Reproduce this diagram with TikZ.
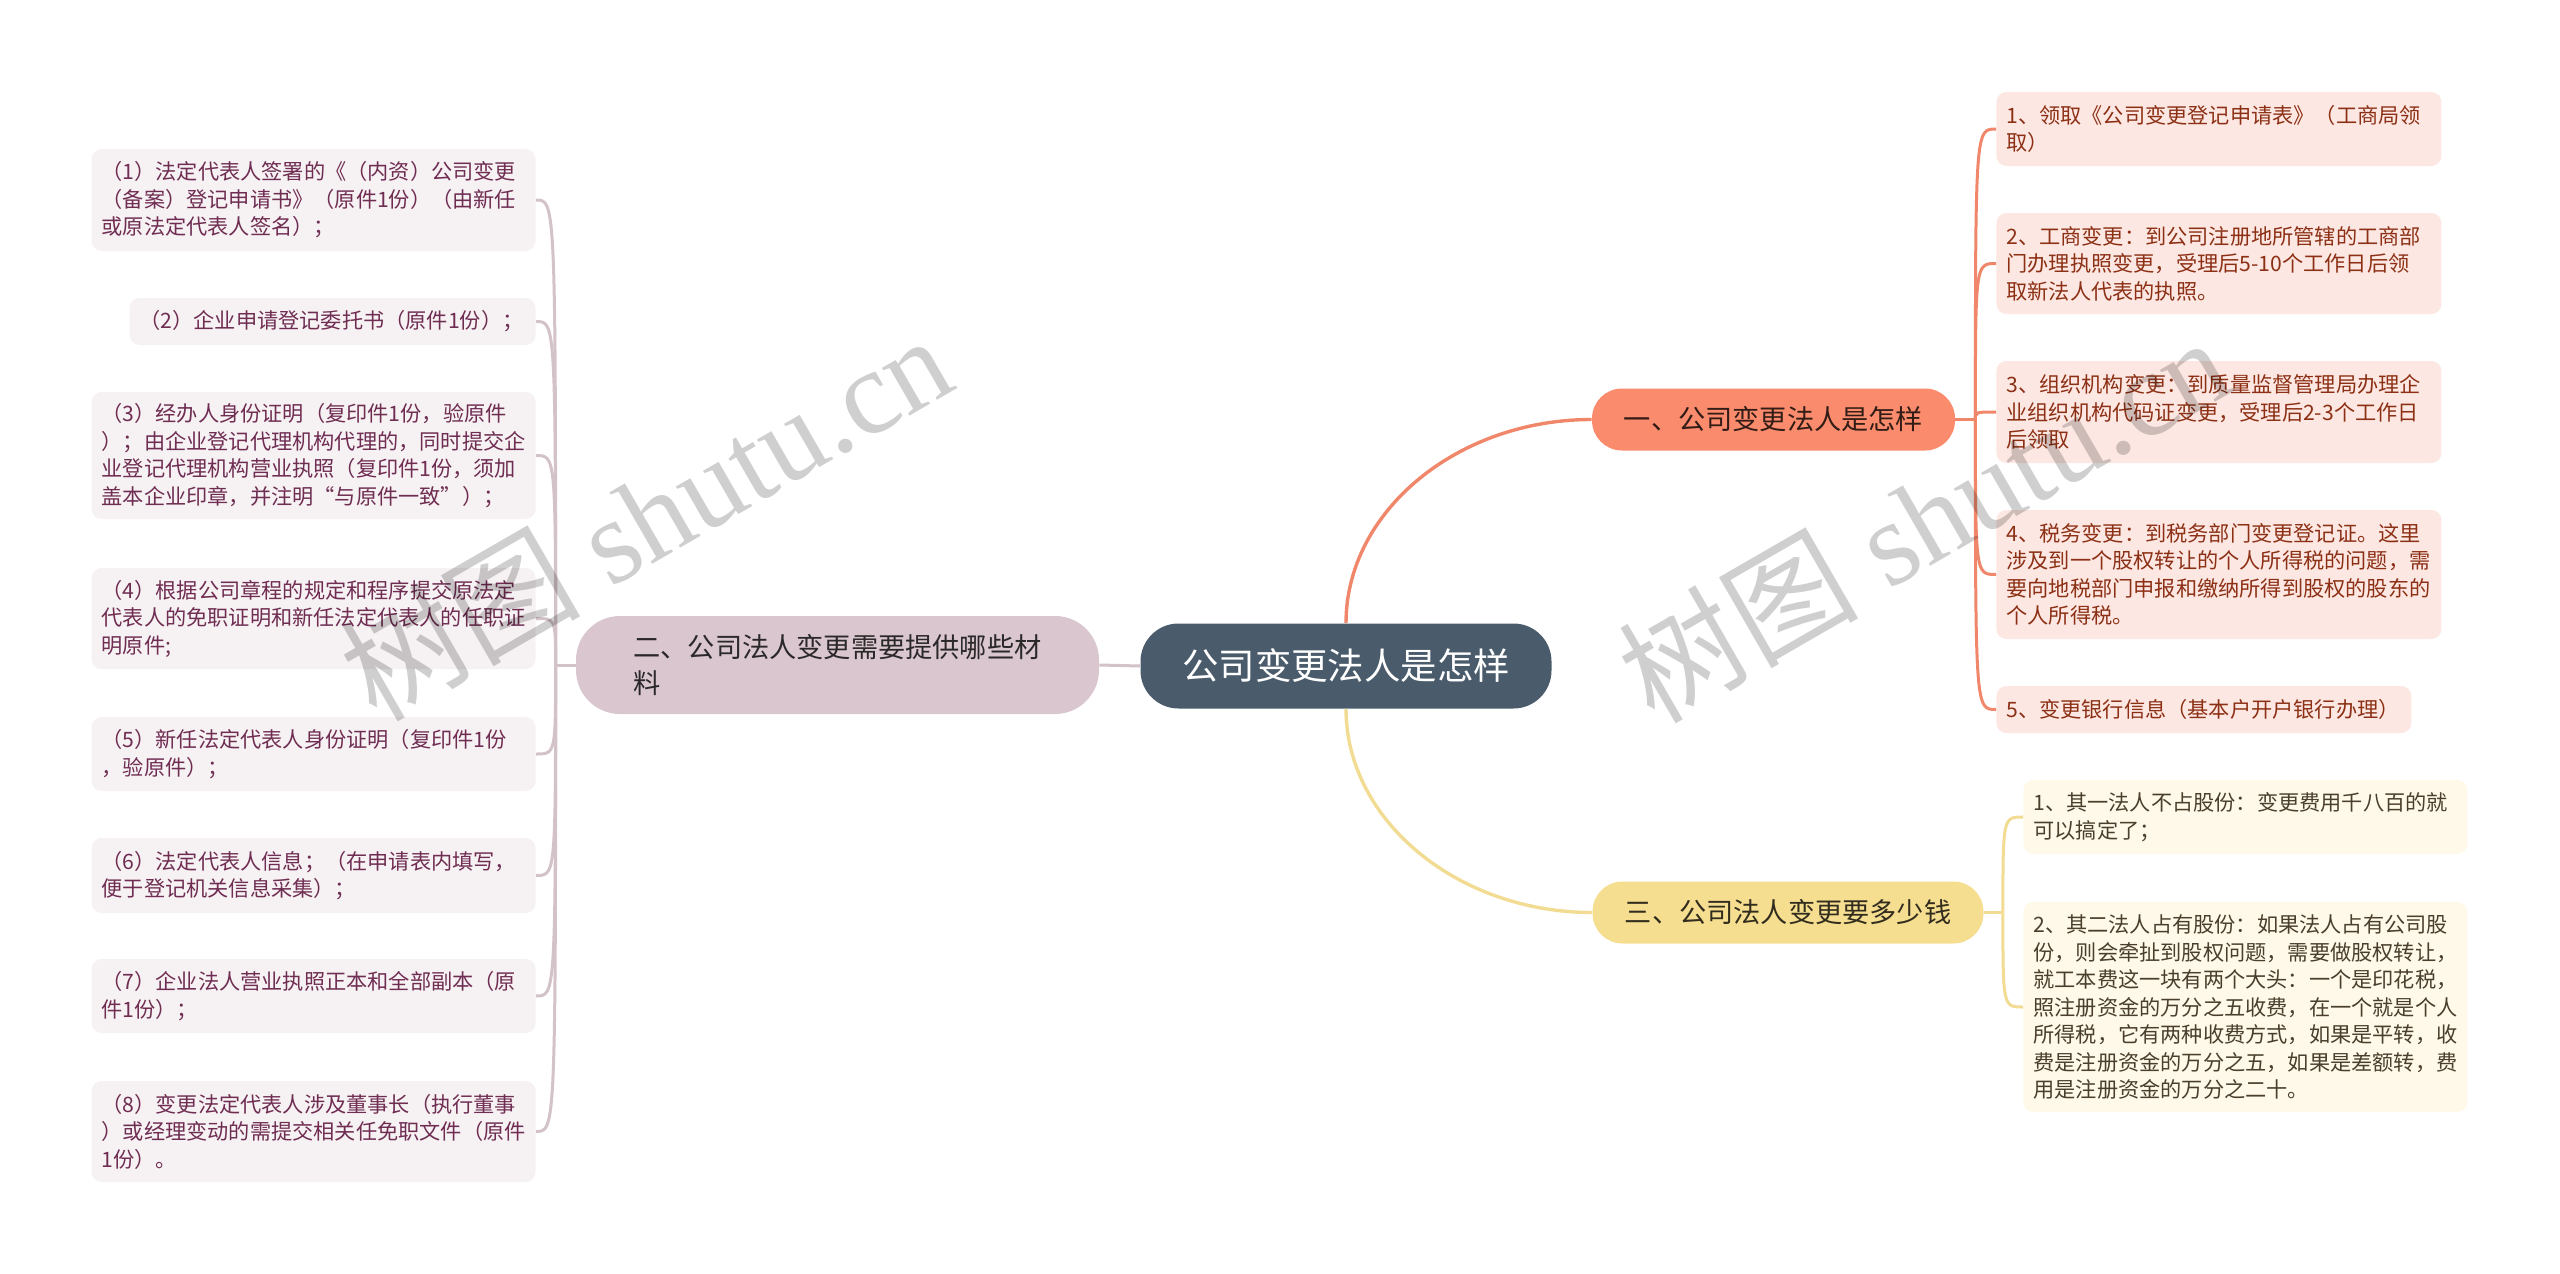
\documentclass[tikz,border=0pt]{standalone}
\usepackage{fontspec}
\newfontfamily\cjk{Noto Sans CJK SC}
\newfontfamily\wmserif{Liberation Serif}
\usetikzlibrary{calc}
\exhyphenpenalty=10000
\hyphenpenalty=10000
\definecolor{rootfill}{HTML}{4A5C6C}
\definecolor{bonefill}{HTML}{FA8B6D}
\definecolor{btwofill}{HTML}{D9C6CE}
\definecolor{bthreefill}{HTML}{F6DE91}
\definecolor{rleaffill}{HTML}{FDE7E2}
\definecolor{lleaffill}{HTML}{F6F1F3}
\definecolor{yleaffill}{HTML}{FEF9E8}
\definecolor{rleaftext}{HTML}{8C3015}
\definecolor{lleaftext}{HTML}{6F2D52}
\definecolor{yleaftext}{HTML}{4A3F2C}
\definecolor{olinecol}{HTML}{F0876A}
\definecolor{ylinecol}{HTML}{F2DC93}
\definecolor{mlinecol}{HTML}{D4C2C9}
\tikzset{
  rootbox/.style={fill=rootfill, text=white, rounded corners=19pt, inner sep=0pt,
    minimum width=205.5pt, minimum height=42.5pt, font=\cjk\fontsize{18.2}{22}\selectfont},
  branchbox/.style={rounded corners=15pt, inner sep=0pt, minimum height=31pt,
    font=\cjk\fontsize{13.6}{18}\selectfont},
  leafbox/.style={rounded corners=5pt, inner xsep=5pt, inner ysep=0pt, align=left,
    font=\cjk\fontsize{10.6}{13.75}\selectfont},
  rleaf/.style={leafbox, fill=rleaffill, text=rleaftext, anchor=west},
  lleaf/.style={leafbox, fill=lleaffill, text=lleaftext, anchor=east},
  yleaf/.style={leafbox, fill=yleaffill, text=yleaftext, anchor=west},
  oline/.style={draw=olinecol, line width=1.5pt},
  yline/.style={draw=ylinecol, line width=1.5pt},
  mline/.style={draw=mlinecol, line width=1.5pt},
  wmark/.style={text=black, opacity=0.19, inner sep=0pt, rotate=30,
    font=\wmserif\fontsize{60}{60}\selectfont}
}
\begin{document}
\begin{tikzpicture}[x=0.5pt,y=-0.5pt]
\useasboundingbox (0,0) rectangle (2560,1274);

% root and branches
\node[rootbox] (root) at (1346,666) {公司变更法人是怎样};
\node[branchbox, fill=bonefill, text=black!80!bonefill, minimum width=181.5pt] (b1) at (1773.5,419.5) {一、公司变更法人是怎样};
\node[branchbox, fill=bthreefill, text=black!80!bthreefill, minimum width=195.5pt] (b3) at (1788,912.5) {三、公司法人变更要多少钱};
\node[branchbox, fill=btwofill, text=black!80!btwofill, minimum width=261.5pt, minimum height=49pt, rounded corners=22pt, align=left] (b2) at (837.5,665) {二、公司法人变更需要提供哪些材\\料};

% right leaves (orange)
\node[rleaf, text width=212.5pt, minimum height=37pt] (r1) at (1996,129) {1、领取《公司变更登记申请表》（工商局领\\取）};
\node[rleaf, text width=212.5pt, minimum height=50.5pt] (r2) at (1996,263.5) {2、工商变更：到公司注册地所管辖的工商部\\门办理执照变更，受理后5-10个工作日后领\\取新法人代表的执照。};
\node[rleaf, text width=212.5pt, minimum height=51pt] (r3) at (1996,412) {3、组织机构变更：到质量监督管理局办理企\\业组织机构代码证变更，受理后2-3个工作日\\后领取};
\node[rleaf, text width=212.5pt, minimum height=64.5pt] (r4) at (1996,574.5) {4、税务变更：到税务部门变更登记证。这里\\涉及到一个股权转让的个人所得税的问题，需\\要向地税部门申报和缴纳所得到股权的股东的\\个人所得税。};
\node[rleaf, text width=197.5pt, minimum height=23.5pt] (r5) at (1996,709.5) {5、变更银行信息（基本户开户银行办理）};

% yellow leaves
\node[yleaf, text width=212pt, minimum height=37pt] (y1) at (2023,817) {1、其一法人不占股份：变更费用千八百的就\\可以搞定了；};
\node[yleaf, text width=212pt, minimum height=105pt] (y2) at (2023,1007) {2、其二法人占有股份：如果法人占有公司股\\份，则会牵扯到股权问题，需要做股权转让，\\就工本费这一块有两个大头：一个是印花税，\\照注册资金的万分之五收费，在一个就是个人\\所得税，它有两种收费方式，如果是平转，收\\费是注册资金的万分之五，如果是差额转，费\\用是注册资金的万分之二十。};

% left leaves
\node[lleaf, text width=212pt, minimum height=51pt] (l1) at (536,200) {（1）法定代表人签署的《（内资）公司变更\\（备案）登记申请书》（原件1份）（由新任\\或原法定代表人签名）；};
\node[lleaf, text width=193pt, minimum height=23.5pt] (l2) at (536,321.5) {（2）企业申请登记委托书（原件1份）；};
\node[lleaf, text width=212pt, minimum height=63.5pt] (l3) at (536,455.5) {（3）经办人身份证明（复印件1份，验原件\\）；由企业登记代理机构代理的，同时提交企\\业登记代理机构营业执照（复印件1份，须加\\盖本企业印章，并注明“与原件一致”）；};
\node[lleaf, text width=212pt, minimum height=50.5pt] (l4) at (536,618.5) {（4）根据公司章程的规定和程序提交原法定\\代表人的免职证明和新任法定代表人的任职证\\明原件;};
\node[lleaf, text width=212pt, minimum height=37pt] (l5) at (536,754) {（5）新任法定代表人身份证明（复印件1份\\，验原件）；};
\node[lleaf, text width=212pt, minimum height=37.5pt] (l6) at (536,875.5) {（6）法定代表人信息；（在申请表内填写，\\便于登记机关信息采集）；};
\node[lleaf, text width=212pt, minimum height=37pt] (l7) at (536,996) {（7）企业法人营业执照正本和全部副本（原\\件1份）；};
\node[lleaf, text width=212pt, minimum height=50.5pt] (l8) at (536,1131.5) {（8）变更法定代表人涉及董事长（执行董事\\）或经理变动的需提交相关任免职文件（原件\\1份）。};

% root to branches
\draw[mline] (root.west) -- (b2.east);
\draw[oline, line width=1.7pt] (root.north) .. controls ($(root.north)+(0,-112)$) and ($(b1.west)+(-134,0)$) .. (b1.west);
\draw[yline, line width=1.7pt] (root.south) .. controls ($(root.south)+(0,112)$) and ($(b3.west)+(-134,0)$) .. (b3.west);

% orange branch to leaves
\draw[oline] (b1.east) -- ++(20,0) coordinate (h1);
\foreach \n in {r1,r2,r3,r4,r5}
  \draw[oline] (h1) .. controls (h1 |- \n.west) .. (\n.west);

% yellow branch to leaves
\draw[yline] (b3.east) -- ++(19,0) coordinate (h3);
\foreach \n in {y1,y2}
  \draw[yline] (h3) .. controls (h3 |- \n.west) .. (\n.west);

% mauve branch to leaves
\draw[mline] (b2.west) -- ++(-20,0) coordinate (h2);
\foreach \n in {l1,l2,l3,l4,l5,l6,l7,l8}
  \draw[mline] (h2) .. controls (h2 |- \n.east) .. (\n.east);

% watermarks
\node[wmark] (wm1) at (645,516) {{\cjk 树图} shutu.cn};
\node[wmark] (wm2) at (1923,518) {{\cjk 树图} shutu.cn};
\end{tikzpicture}
\end{document}
